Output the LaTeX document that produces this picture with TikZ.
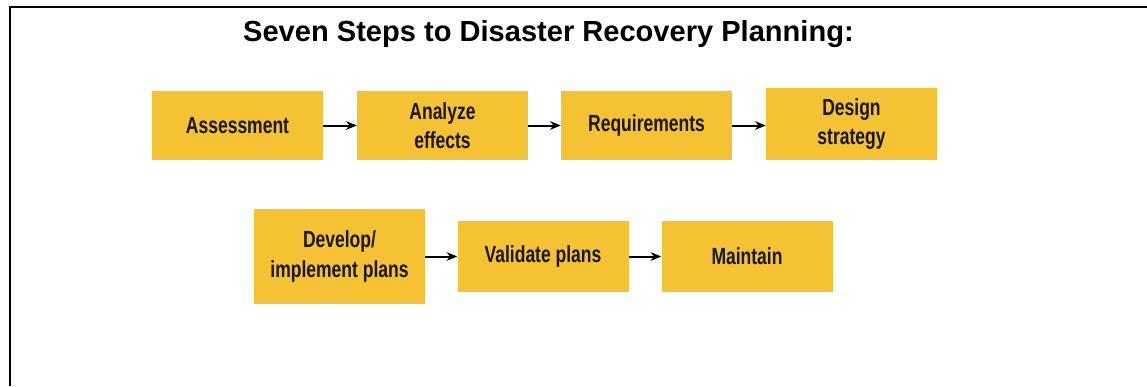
\documentclass[tikz,border=0pt]{standalone}
\usepackage{fontspec}
\setmainfont{Liberation Sans}
\newfontfamily\stepfont{Liberation Sans}[FakeStretch=0.75]
\usetikzlibrary{arrows.meta}
\definecolor{stepyellow}{RGB}{245,194,52}
\definecolor{steptext}{RGB}{25,22,15}
\begin{document}
\begin{tikzpicture}[x=0.75pt,y=-0.75pt,>={Stealth[length=8pt,width=6.5pt]}, line join=round,
	stepbox/.style={fill=stepyellow, minimum width=128.25pt, inner sep=0pt, align=center,
		text=steptext, font=\stepfont\bfseries\fontsize{17.5}{22}\selectfont},
	flow/.style={->, line width=1.5pt}]
	\def\picw{1147} \def\pich{386}
	\useasboundingbox (0,0) rectangle (\picw,\pich);
	% frame, only top and left
	\draw[line width=2.2pt] (8.5,7) -- (\picw,7);
	\draw[line width=1.5pt] (9.5,7) -- (9.5,\pich);
	\node[font=\bfseries\fontsize{21.8}{26}\selectfont, anchor=base] (title) at (548.5,41) {Seven Steps to Disaster Recovery Planning:};
	% first row
	\node[stepbox, minimum height=51.75pt] (assess) at (237.5,125.5) {Assessment};
	\node[stepbox, minimum height=51.75pt] (analyze) at (442.5,125.5) {Analyze\\effects};
	\node[stepbox, minimum height=51.75pt] (require) at (646.5,125.5) {Requirements};
	\node[stepbox, minimum height=54pt] (design) at (851.5,124) {Design\\strategy};
	% second row
	\node[stepbox, minimum height=71.25pt] (develop) at (339.5,256.5) {Develop/\\implement plans};
	\node[stepbox, minimum height=53.25pt] (validate) at (543,256.5) {Validate plans};
	\node[stepbox, minimum height=53.25pt] (maintain) at (747,256.5) {Maintain};
	\foreach \a/\b in {assess/analyze, analyze/require, require/design, develop/validate, validate/maintain}
		\draw[flow] (\a.east) -- (\a.east -| \b.west);
\end{tikzpicture}
\end{document}
